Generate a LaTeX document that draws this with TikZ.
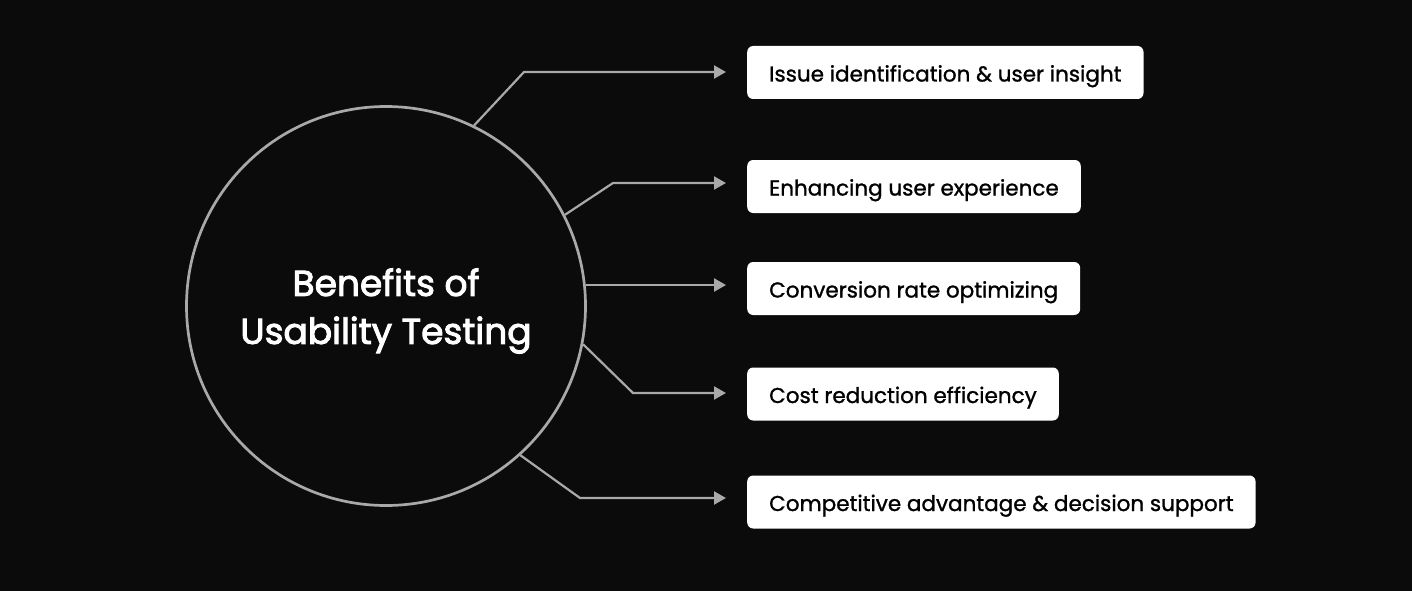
\documentclass[tikz,border=0pt]{standalone}
\usepackage{fontspec}
\setmainfont{Poppins}
\newfontfamily\boxfont{Poppins}[FakeBold=1.2]
\newfontfamily\titlefont{Poppins}[FakeBold=2.6]
\usetikzlibrary{arrows.meta}

\definecolor{bgdark}{HTML}{0B0B0B}
\definecolor{linkgray}{HTML}{A9A9A9}

\tikzset{
  hub/.style={circle,draw=linkgray,line width=2.7pt,minimum size=399pt,inner sep=0pt},
  hubtitle/.style={text=white,align=center,font=\titlefont\fontsize{36}{48}\selectfont},
  benefit/.style={rectangle,rounded corners=6pt,fill=white,anchor=west,minimum height=53pt,
    inner xsep=22pt,text height=23pt,text depth=5pt,text=black,
    font=\boxfont\fontsize{21.5}{26}\selectfont},
  link/.style={draw=linkgray,line width=2.2pt,-{Triangle[length=12pt,width=13pt]},shorten >=21pt}
}

\begin{document}
\begin{tikzpicture}[x=1pt,y=-1pt]

\useasboundingbox[fill=bgdark] (0,0) rectangle (1412,591);

\node[hub] (usab) at (386,306) {};
\node[hubtitle] (title) at (386,311) {Benefits of\\Usability Testing};

\node[benefit] (issue) at (747,72.5) {Issue identification \& user insight};
\node[benefit] (enhance) at (747,186.5) {Enhancing user experience};
\node[benefit] (convert) at (747,288.5) {Conversion rate optimizing};
\node[benefit] (cost) at (747,394) {Cost reduction efficiency};
\node[benefit] (compete) at (747,502) {Competitive advantage \& decision support};

\coordinate (k1) at (524,72);
\coordinate (k2) at (613,183);
\coordinate (k4) at (633,393);
\coordinate (k5) at (580,498);

\draw[link] (usab.64) -- (k1) -- (k1 -| issue.west);
\draw[link] (usab.27) -- (k2) -- (k2 -| enhance.west);
\draw[link] (usab.6) -- (usab.6 -| convert.west);
\draw[link] (usab.-11) -- (k4) -- (k4 -| cost.west);
\draw[link] (usab.-48) -- (k5) -- (k5 -| compete.west);

\end{tikzpicture}
\end{document}
